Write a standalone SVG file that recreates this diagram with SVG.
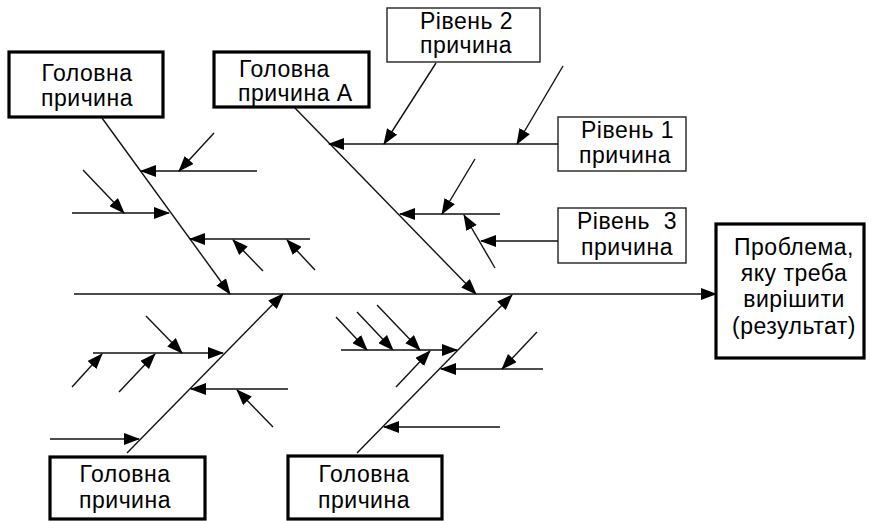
<svg xmlns="http://www.w3.org/2000/svg" width="871" height="521" viewBox="0 0 871 521">
<style>
.thick{fill:#fff;stroke:#000;stroke-width:3.2}
.thin{fill:#fff;stroke:#222;stroke-width:1.4}
.t{font-family:"Liberation Sans",Arial,sans-serif;font-size:23px;letter-spacing:0.5px;fill:#000}
.c{text-anchor:middle}
#connectors line{stroke:#111;stroke-width:1.4;marker-end:url(#ah)}
</style>
<defs>
<marker id="ah" markerUnits="userSpaceOnUse" markerWidth="16" markerHeight="12" refX="15" refY="6" orient="auto">
<path d="M0,0 L16,6 L0,12 z" fill="#000"/>
</marker>
</defs>
<rect width="871" height="521" fill="#fff"/>
<g id="connectors">
<line x1="74" y1="294" x2="716" y2="294"/>
<!-- top-left bone -->
<line x1="102" y1="118" x2="230" y2="294"/>
<line x1="257" y1="171" x2="141" y2="171"/>
<line x1="214" y1="133" x2="179" y2="171"/>
<line x1="72" y1="213" x2="169" y2="213"/>
<line x1="83" y1="170" x2="124" y2="213"/>
<line x1="310" y1="239" x2="190" y2="239"/>
<line x1="263" y1="271" x2="233" y2="240"/>
<line x1="315" y1="270" x2="287" y2="240"/>
<!-- top A bone -->
<line x1="294" y1="107" x2="476" y2="294"/>
<line x1="558" y1="144" x2="329" y2="144"/>
<line x1="436" y1="63" x2="384" y2="144"/>
<line x1="563" y1="66" x2="517" y2="144"/>
<line x1="500" y1="214" x2="400" y2="214"/>
<line x1="475" y1="159" x2="442" y2="214"/>
<line x1="495" y1="268" x2="464" y2="215"/>
<line x1="558" y1="241" x2="481" y2="241"/>
<!-- lower-left bone -->
<line x1="127" y1="453" x2="283" y2="294"/>
<line x1="93" y1="353" x2="223" y2="353"/>
<line x1="146" y1="316" x2="182" y2="353"/>
<line x1="72" y1="387" x2="102" y2="354"/>
<line x1="119" y1="392" x2="155" y2="354"/>
<line x1="288" y1="389" x2="191" y2="389"/>
<line x1="273" y1="427" x2="237" y2="390"/>
<line x1="50" y1="439" x2="139" y2="439"/>
<!-- lower-middle bone -->
<line x1="357" y1="453" x2="512" y2="295"/>
<line x1="341" y1="350" x2="457" y2="350"/>
<line x1="336" y1="317" x2="367" y2="350"/>
<line x1="357" y1="312" x2="393" y2="350"/>
<line x1="377" y1="305" x2="420" y2="350"/>
<line x1="396" y1="387" x2="430" y2="351"/>
<line x1="543" y1="369" x2="441" y2="369"/>
<line x1="537" y1="332" x2="502" y2="369"/>
<line x1="500" y1="427" x2="384" y2="427"/>
</g>
<g id="main-cause-top-left">
<rect class="thick" x="9" y="52" width="154" height="65"/>
<text class="t c" x="87" y="81">Головна</text>
<text class="t c" x="87" y="106">причина</text>
</g>
<g id="main-cause-a">
<rect class="thick" x="214" y="52" width="155" height="55"/>
<text class="t" x="239" y="77">Головна</text>
<text class="t" x="238" y="101">причина А</text>
</g>
<g id="level-2">
<rect class="thin" x="387" y="8" width="153" height="54"/>
<text class="t" x="420" y="29">Рівень 2</text>
<text class="t" x="420" y="53">причина</text>
</g>
<g id="level-1">
<rect class="thin" x="558" y="117" width="128" height="54"/>
<text class="t" x="581" y="138">Рівень 1</text>
<text class="t" x="579" y="163">причина</text>
</g>
<g id="level-3">
<rect class="thin" x="558" y="208" width="128" height="55"/>
<text class="t" x="577" y="229" xml:space="preserve">Рівень  3</text>
<text class="t" x="581" y="255">причина</text>
</g>
<g id="problem">
<rect class="thick" x="716" y="224" width="148" height="134"/>
<text class="t c" x="794" y="255">Проблема,</text>
<text class="t c" x="794" y="281">яку треба</text>
<text class="t c" x="794" y="307">вирішити</text>
<text class="t c" x="794" y="334">(результат)</text>
</g>
<g id="main-cause-bottom-left">
<rect class="thick" x="50" y="457" width="155" height="62"/>
<text class="t c" x="125" y="482">Головна</text>
<text class="t c" x="125" y="508">причина</text>
</g>
<g id="main-cause-bottom-middle">
<rect class="thick" x="288" y="456" width="154" height="63"/>
<text class="t c" x="364" y="482">Головна</text>
<text class="t c" x="364" y="508">причина</text>
</g>
</svg>
